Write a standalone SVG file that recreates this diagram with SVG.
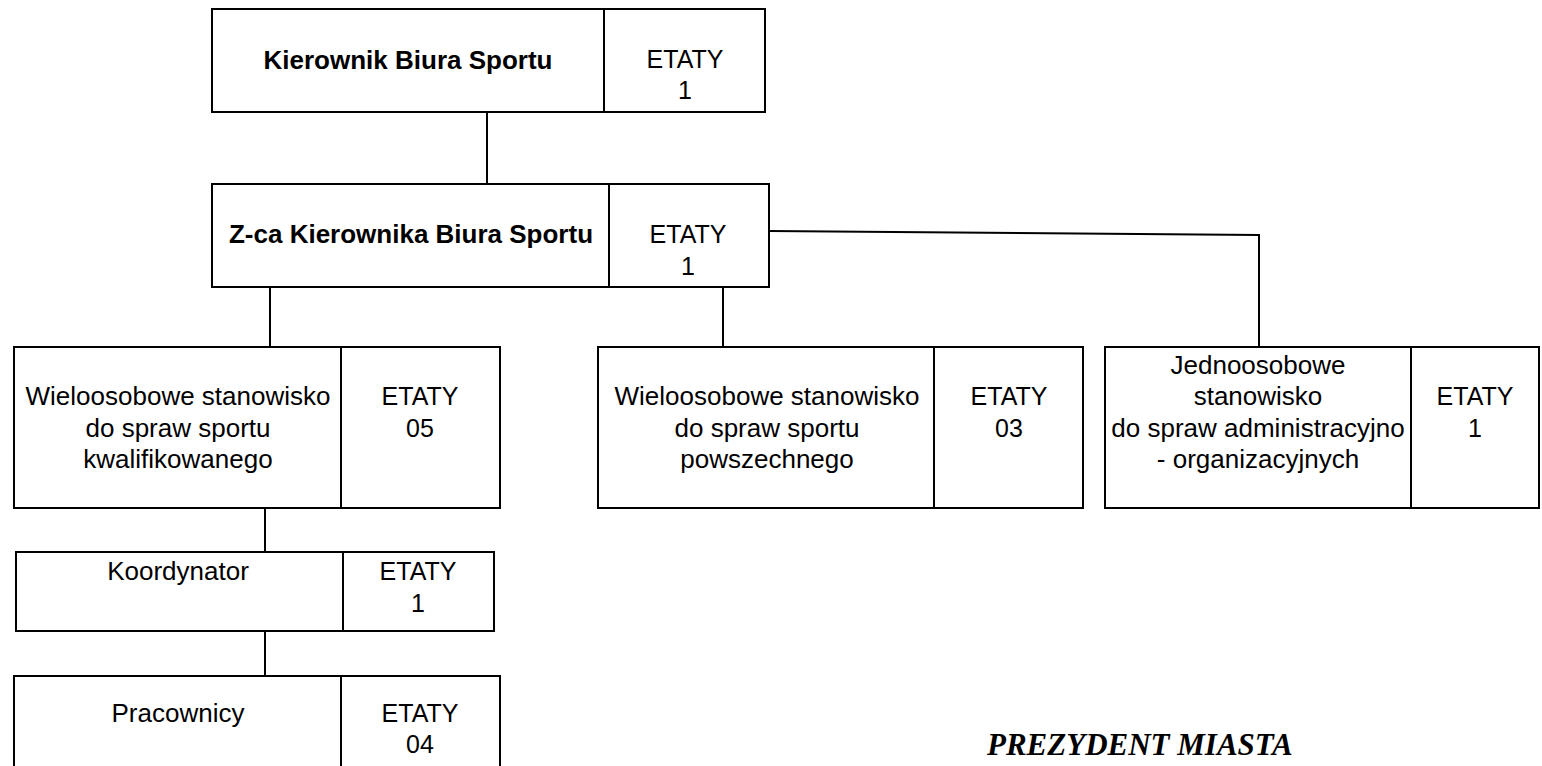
<svg xmlns="http://www.w3.org/2000/svg" width="1542" height="766" viewBox="0 0 1542 766">
<style>
.n{fill:#fff;stroke:#000;stroke-width:2}
line,polyline{stroke:#000;stroke-width:2;fill:none}
text{font-family:"Liberation Sans",Arial,sans-serif;font-size:26px;fill:#000;text-anchor:middle}
.b{font-weight:bold}
.e{font-size:25px}
.p{font-family:"Liberation Serif","Times New Roman",serif;font-weight:bold;font-style:italic;font-size:31px;text-anchor:start}
</style>
<rect width="1542" height="766" fill="#fff"/>
<g id="connectors">
<line x1="487" y1="112" x2="487" y2="184"/>
<line x1="270" y1="287" x2="270" y2="347"/>
<line x1="723" y1="287" x2="723" y2="347"/>
<polyline points="769,231 1259,235 1259,347"/>
<line x1="265" y1="508" x2="265" y2="552"/>
<line x1="265" y1="631" x2="265" y2="676"/>
</g>
<g id="kierownik">
<rect class="n" x="212" y="9" width="553" height="103"/>
<line x1="604" y1="9" x2="604" y2="112"/>
<text class="b" x="408" y="69">Kierownik Biura Sportu</text>
<text class="e" x="685" y="68">ETATY</text>
<text class="e" x="685" y="99">1</text>
</g>
<g id="zastepca">
<rect class="n" x="212" y="184" width="557" height="103"/>
<line x1="609" y1="184" x2="609" y2="287"/>
<text class="b" x="411" y="243">Z-ca Kierownika Biura Sportu</text>
<text class="e" x="688" y="243">ETATY</text>
<text class="e" x="688" y="275">1</text>
</g>
<g id="kwalifikowany">
<rect class="n" x="14" y="347" width="486" height="161"/>
<line x1="341" y1="347" x2="341" y2="508"/>
<text x="178" y="405">Wieloosobowe stanowisko</text>
<text x="178" y="437">do spraw sportu</text>
<text x="178" y="468">kwalifikowanego</text>
<text class="e" x="420" y="405">ETATY</text>
<text class="e" x="420" y="437">05</text>
</g>
<g id="powszechny">
<rect class="n" x="598" y="347" width="485" height="161"/>
<line x1="934" y1="347" x2="934" y2="508"/>
<text x="767" y="405">Wieloosobowe stanowisko</text>
<text x="767" y="437">do spraw sportu</text>
<text x="767" y="468">powszechnego</text>
<text class="e" x="1009" y="405">ETATY</text>
<text class="e" x="1009" y="437">03</text>
</g>
<g id="administracyjne">
<rect class="n" x="1105" y="347" width="434" height="161"/>
<line x1="1411" y1="347" x2="1411" y2="508"/>
<text x="1258" y="374">Jednoosobowe</text>
<text x="1258" y="405">stanowisko</text>
<text x="1258" y="437">do spraw administracyjno</text>
<text x="1258" y="468">- organizacyjnych</text>
<text class="e" x="1475" y="405">ETATY</text>
<text class="e" x="1475" y="437">1</text>
</g>
<g id="koordynator">
<rect class="n" x="16" y="552" width="478" height="79"/>
<line x1="343" y1="552" x2="343" y2="631"/>
<text x="178" y="580">Koordynator</text>
<text class="e" x="418" y="580">ETATY</text>
<text class="e" x="418" y="612">1</text>
</g>
<g id="pracownicy">
<rect class="n" x="14" y="676" width="486" height="100"/>
<line x1="341" y1="676" x2="341" y2="776"/>
<text x="178" y="722">Pracownicy</text>
<text class="e" x="420" y="722">ETATY</text>
<text class="e" x="420" y="753">04</text>
</g>
<text class="p" x="987" y="755">PREZYDENT MIASTA</text>
</svg>
